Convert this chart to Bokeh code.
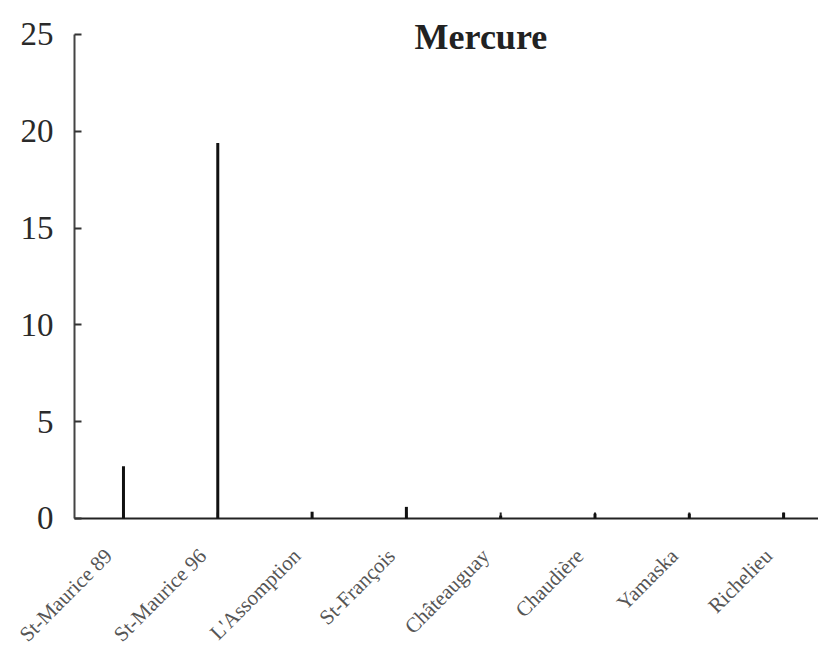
import math
from bokeh.plotting import figure
from bokeh.models import Range1d, FixedTicker, Label, ColumnDataSource
from bokeh.core.properties import value
from bokeh.embed import file_html
from bokeh.resources import INLINE

title_text = "Mercure"
categories = ["St-Maurice 89", "St-Maurice 96", "L'Assomption", "St-François",
              "Châteauguay", "Chaudière", "Yamaska", "Richelieu"]
values = [2.7, 19.4, 0.35, 0.6, 0.15, 0.25, 0.25, 0.3]
y_ticks = [0, 5, 10, 15, 20, 25]

xs = list(range(len(categories)))
src = ColumnDataSource(dict(x=xs, y=values, base=[0] * len(xs),
                            tick=[0.31] * len(xs), label=categories))

X_START = -0.52  # left end of the x axis (category units)

p = figure(width=818, height=649, output_backend="svg", toolbar_location=None,
           x_range=Range1d(-1.304, 7.37), y_range=Range1d(-6.767, 26.756),
           min_border_left=0, min_border_right=0, min_border_top=0,
           min_border_bottom=0)
p.outline_line_color = None
p.xgrid.grid_line_color = None
p.ygrid.grid_line_color = None
p.background_fill_color = "white"
p.border_fill_color = "white"
p.xaxis.visible = False

# y axis, placed at the left end of the x axis
ya = p.yaxis[0]
ya.fixed_location = X_START
ya.bounds = (0, 25)
ya.ticker = FixedTicker(ticks=y_ticks)
ya.minor_tick_line_color = None
ya.major_tick_in = 7
ya.major_tick_out = 0
ya.major_tick_line_width = 2
ya.major_tick_line_color = "#333333"
ya.axis_line_width = 2
ya.axis_line_color = "#444444"
ya.major_label_text_font = "Liberation Serif"
ya.major_label_text_font_size = "33px"
ya.major_label_text_color = "#2a2a2a"
ya.major_label_standoff = 21

# x baseline (axis line) from the y axis to the right edge, with inward ticks
p.segment(x0=[X_START], y0=[0], x1=[p.x_range.end], y1=[0],
          line_color="#222222", line_width=2)
p.segment(x0="x", y0="base", x1="x", y1="tick", source=src,
          line_color="#222222", line_width=2)

# bars (thin vertical lines)
p.segment(x0="x", y0="base", x1="x", y1="y", source=src, line_color="#111111",
          line_width=3)

# category labels
p.text(x="x", y="base", text="label", source=src, angle=math.radians(45),
       text_align="right", text_baseline="middle", x_offset=-15, y_offset=34,
       text_font=value("Liberation Serif"), text_font_size="21px",
       text_color="#555555")

p.add_layout(Label(x=3.79, y=24.85, text=title_text, text_font="Liberation Serif",
                   text_font_size="36px", text_font_style="bold",
                   text_color="#222222", text_align="center",
                   text_baseline="alphabetic"))

open("out.html", "w", encoding="utf-8").write(file_html(p, INLINE))
